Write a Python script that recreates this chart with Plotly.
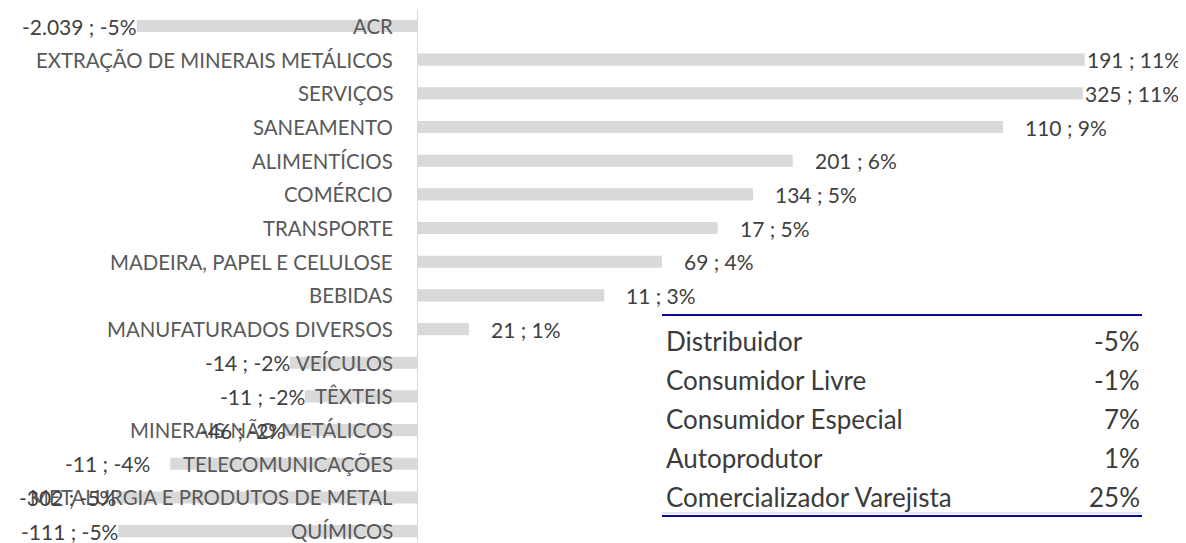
import plotly.graph_objects as go

# ---------------- data ----------------
categories = [
    "ACR",
    "EXTRAÇÃO DE MINERAIS METÁLICOS",
    "SERVIÇOS",
    "SANEAMENTO",
    "ALIMENTÍCIOS",
    "COMÉRCIO",
    "TRANSPORTE",
    "MADEIRA, PAPEL E CELULOSE",
    "BEBIDAS",
    "MANUFATURADOS DIVERSOS",
    "VEÍCULOS",
    "TÊXTEIS",
    "MINERAIS NÃO METÁLICOS",
    "TELECOMUNICAÇÕES",
    "METALURGIA E PRODUTOS DE METAL",
    "QUÍMICOS",
]
volumes = [-2039, 191, 325, 110, 201, 134, 17, 69, 11, 21, -14, -11, -46, -11, -302, -111]
variation_pct = [-4.52, 10.77, 10.74, 9.45, 6.06, 5.42, 4.85, 3.95, 3.02, 0.84,
                 -2.05, -1.81, -2.13, -3.98, -4.85, -4.82]

table_labels = ["Distribuidor", "Consumidor Livre", "Consumidor Especial",
                "Autoprodutor", "Comercializador Varejista"]
table_values = ["-5%", "-1%", "7%", "1%", "25%"]

# ---------------- style ----------------
W, H = 1186, 543
OFF = 8            # page body margin: figure is drawn 8px right/down in the window
M_T, M_B = 1, 0
FONT = "Lato"
BAR_COLOR = "#d9d9d9"
CAT_COLOR = "#595959"
LBL_COLOR = "#404040"
TABLE_COLOR = "#3b3b3b"
LINE_BLUE = "#0a0a8c"
# manual label nudges (pixels) to mimic the original layout
label_nudge = {
    "EXTRAÇÃO DE MINERAIS METÁLICOS": -20,
    "SERVIÇOS": -20,
    "TELECOMUNICAÇÕES": -20,
}


def fmt_label(vol, pct):
    v = f"{vol:,}".replace(",", ".")
    p = int(abs(pct) + 0.5) * (1 if pct >= 0 else -1)
    return f"{v} ; {p}%"


def py(wy):
    """window pixel y -> paper y"""
    return 1 - (wy - OFF - M_T) / (H - M_T - M_B)


def px(wx):
    """window pixel x -> paper x"""
    return (wx - OFF) / W


fig = go.Figure()
fig.add_trace(go.Bar(
    x=variation_pct,
    y=categories,
    orientation="h",
    marker=dict(color=BAR_COLOR, line=dict(width=0)),
    width=0.36,
    hoverinfo="skip",
    showlegend=False,
))

annotations = []
for cat, vol, pct in zip(categories, volumes, variation_pct):
    annotations.append(dict(
        x=0, y=cat, xref="x", yref="y", text=cat, showarrow=False,
        xanchor="right", yanchor="middle", xshift=-22,
        font=dict(family=FONT, size=20.4, color=CAT_COLOR),
    ))
    base = 20 if pct >= 0 else 2
    annotations.append(dict(
        x=pct, y=cat, xref="x", yref="y", text=fmt_label(vol, pct), showarrow=False,
        xanchor="left" if pct >= 0 else "right", yanchor="middle",
        xshift=base + label_nudge.get(cat, 0),
        font=dict(family=FONT, size=21, color=LBL_COLOR),
    ))

# table
row0, row_step = 341, 39
for i, (lab, val) in enumerate(zip(table_labels, table_values)):
    yy = py(row0 + i * row_step)
    annotations.append(dict(
        x=px(664), y=yy, xref="paper", yref="paper", text=lab, showarrow=False,
        xanchor="left", yanchor="middle",
        font=dict(family=FONT, size=26, color=TABLE_COLOR),
    ))
    annotations.append(dict(
        x=px(1142), y=yy, xref="paper", yref="paper", text=val, showarrow=False,
        xanchor="right", yanchor="middle",
        font=dict(family=FONT, size=26, color=TABLE_COLOR),
    ))

shapes = [
    dict(type="line", xref="paper", yref="paper", x0=px(662), x1=px(1142),
         y0=py(315), y1=py(315), line=dict(color=LINE_BLUE, width=2)),
    dict(type="line", xref="paper", yref="paper", x0=px(662), x1=px(1142),
         y0=py(513), y1=py(513), line=dict(color="#c8c8f0", width=1)),
    dict(type="line", xref="paper", yref="paper", x0=px(662), x1=px(1142),
         y0=py(516), y1=py(516), line=dict(color=LINE_BLUE, width=2)),
]

zero_px = 417 - OFF
px_per_pct = 62.0
fig.update_layout(
    width=W, height=H,
    margin=dict(l=0, r=0, t=M_T, b=M_B, pad=0),
    paper_bgcolor="white", plot_bgcolor="white",
    bargap=0.64,
    xaxis=dict(
        range=[-zero_px / px_per_pct, (W - zero_px) / px_per_pct],
        showgrid=False, showticklabels=False, ticks="",
        zeroline=True, zerolinecolor="#d9d9d9", zerolinewidth=1.2,
        fixedrange=True,
    ),
    yaxis=dict(
        categoryorder="array", categoryarray=categories,
        range=[len(categories) - 0.41, -0.505],
        showgrid=False, showticklabels=False, ticks="", zeroline=False,
        fixedrange=True,
    ),
    annotations=annotations,
    shapes=shapes,
    font=dict(family=FONT),
)

fig.write_html("out.html")
